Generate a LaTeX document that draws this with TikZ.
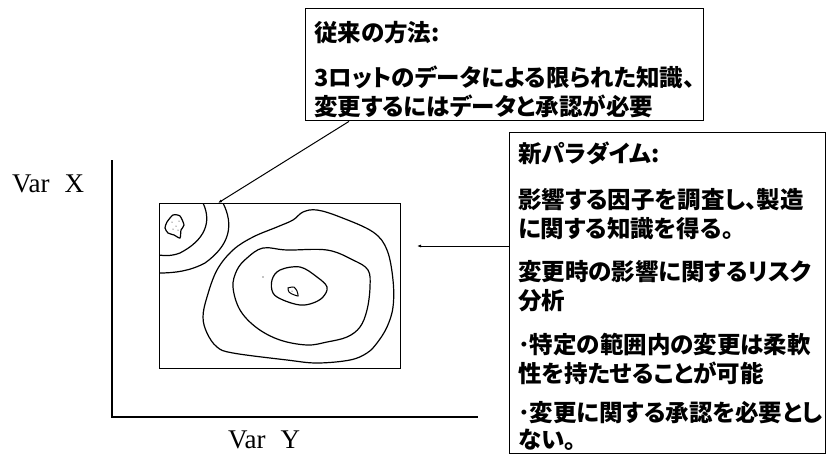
\documentclass[tikz,border=0pt]{standalone}
\usepackage{fontspec}
\setmainfont{Liberation Serif}
\newfontfamily\jp{Noto Sans CJK JP}[RawFeature=+palt]
\usetikzlibrary{arrows.meta}
\begin{document}
\begin{tikzpicture}[x=1pt,y=-1pt,
  box/.style={draw, line width=1.4pt, fill=white, inner sep=0pt, anchor=north west},
  jtext/.style={anchor=base west, inner sep=0pt, font=\jp\bfseries\fontsize{23.5}{28}\selectfont},
  axisline/.style={line width=1.6pt},
  contour/.style={line width=1.2pt},
  conn/.style={line width=1pt, -{Latex[length=4pt,width=3pt]}},
  lab/.style={font=\fontsize{27}{31}\selectfont, inner sep=0pt, anchor=west}]
\useasboundingbox (0,0) rectangle (826,461);
% axes
\coordinate (ytop) at (112,160);
\coordinate (orig) at (112,417);
\coordinate (xend) at (478,417);
\draw[axisline] (ytop) -- (orig) -- (xend);
\node[lab] (vx) at (12,184) {Var\hspace{15pt}X};
\node[lab] (vy) at (228,440) {Var\hspace{15pt}Y};
% plot area
\node[box, minimum width=241pt, minimum height=165pt] (plot) at (159,203) {};
\begin{scope}
\clip (159,203) rectangle (400,368);
\draw[contour] (203,203) .. controls (212,222) and (205,240) .. (180,253) .. controls (172,256) and (165,256) .. (159,255);
\draw[contour] (223,203) .. controls (234,225) and (230,245) .. (205,263) .. controls (190,271) and (175,273) .. (159,273);
\end{scope}
\draw[contour] plot[smooth cycle, tension=0.6] coordinates {(293,220) (303,212) (317,210) (340,217) (373,232) (387,250) (393,280) (393,307) (387,327) (377,343) (367,353) (350,360) (317,363) (287,360) (233,353) (217,347) (207,333) (203,317) (207,297) (217,270) (233,250) (253,237) (277,227)};
\draw[contour] plot[smooth cycle, tension=0.6] coordinates {(263,248) (287,250) (327,250) (353,260) (368,270) (370,287) (367,310) (360,327) (347,337) (327,342) (307,345) (280,340) (257,328) (240,310) (233,287) (237,270) (247,258)};
\draw[contour] plot[smooth cycle, tension=0.6] coordinates {(280,270) (300,267) (317,277) (327,287) (323,297) (313,303) (300,305) (283,300) (273,293) (272,280)};
\draw[contour] plot[smooth cycle, tension=0.4] coordinates {(167,222) (173,215) (180,216) (184,225) (181,230) (180,238) (174,235) (168,233) (165,228)};
\draw[line width=1pt] plot[smooth cycle, tension=0.3] coordinates {(288,288) (294,287) (297,291) (298,296) (292,294) (289,292)};
\foreach \p in {(172,222),(176,226),(178,230),(173,229),(179,221),(292,291)} \fill \p circle (0.5pt);
\fill (263,277) circle (0.6pt);
% old method box
\node[box, minimum width=398pt, minimum height=112pt] (old) at (305,8) {};
\node[jtext] (o1) at (314,41) {従来の方法:};
\node[jtext] (o2) at (314,86) {3ロットのデータによる限られた知識、};
\node[jtext] (o3) at (314,115) {変更するにはデータと承認が必要};
% new paradigm box
\node[box, minimum width=316pt, minimum height=321pt] (new) at (509,132) {};
\node[jtext] (n1) at (518,162) {新パラダイム:};
\node[jtext] (n2) at (518,208) {影響する因子を調査し、製造};
\node[jtext] (n3) at (518,237) {に関する知識を得る。};
\node[jtext] (n4) at (518,280) {変更時の影響に関するリスク};
\node[jtext] (n5) at (518,309) {分析};
\node[jtext] (n6) at (518,353) {･特定の範囲内の変更は柔軟};
\node[jtext] (n7) at (518,382) {性を持たせることが可能};
\node[jtext] (n8) at (518,421) {･変更に関する承認を必要とし};
\node[jtext] (n9) at (518,448) {ない。};
% connectors
\coordinate (tipA) at (218,203);
\coordinate (tipB) at (417,246);
\draw[conn] (old.south west) ++(44,0) -- (tipA);
\draw[conn] (tipB -| new.west) -- (tipB);
\end{tikzpicture}
\end{document}
